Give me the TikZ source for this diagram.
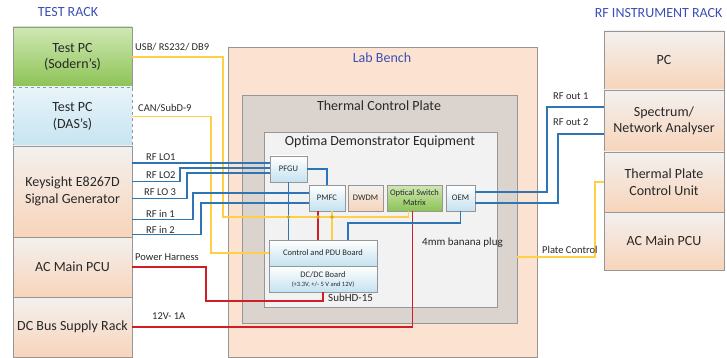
\documentclass[tikz,border=0pt]{standalone}
\usepackage{fontspec}
\setmainfont{Carlito}
\usepackage{tikz}
\usetikzlibrary{positioning}

\definecolor{peach}{RGB}{248,212,186}
\definecolor{paleface}{RGB}{243,241,239}
\definecolor{benchfill}{RGB}{251,226,209}
\definecolor{platefill}{RGB}{219,212,206}
\definecolor{optimafill}{RGB}{242,242,242}
\definecolor{boxblue}{RGB}{196,226,240}
\definecolor{dasblue}{RGB}{198,228,241}
\definecolor{leafgreen}{RGB}{140,195,85}
\definecolor{palegreen}{RGB}{208,232,180}
\definecolor{titleblue}{RGB}{60,80,180}
\definecolor{wireblue}{RGB}{46,117,182}
\definecolor{wireyellow}{RGB}{255,208,70}
\definecolor{wirered}{RGB}{208,30,40}
\definecolor{edgegray}{RGB}{150,150,150}
\definecolor{inkgray}{RGB}{40,40,40}

\begin{document}
\begin{tikzpicture}[x=1pt, y=-1pt,
  rack/.style={rectangle, draw=edgegray, outer sep=0pt, inner sep=2pt, minimum width=119pt, align=center, top color=paleface, bottom color=peach, text=inkgray, font=\fontsize{14}{16.5}\selectfont},
  holder/.style={rectangle, draw=edgegray, outer sep=0pt, anchor=north west},
  unit/.style={rectangle, draw=edgegray, outer sep=0pt, inner sep=1pt, minimum height=26pt, align=center, top color=white, bottom color=boxblue, text=inkgray, font=\fontsize{8.5}{10}\selectfont},
  heading/.style={text=titleblue, font=\fontsize{14}{16}\selectfont},
  caption/.style={text=inkgray, font=\fontsize{14}{16}\selectfont},
  lbl/.style={anchor=west, inner sep=0pt, text=inkgray, font=\fontsize{10.5}{12}\selectfont},
  bwire/.style={wireblue, line width=1.5pt},
  ywire/.style={wireyellow, line width=1.4pt},
  rwire/.style={wirered, line width=1.8pt},
  joint/.style={radius=1.8pt}]
\useasboundingbox (0,0) rectangle (727,358);

\node[heading] (testrack) at (68,12) {TEST RACK};
\node[rack, minimum height=60pt, top color=palegreen, bottom color=leafgreen] (sodern) at (72.5,57) {Test PC\\(Sodern's)};
\node[rack, below=0pt of sodern, minimum height=59pt, dashed, top color=white!60!dasblue, bottom color=dasblue] (das) {Test PC\\(DAS's)};
\node[rack, below=0pt of das, minimum height=91pt] (keysight) {Keysight E8267D\\Signal Generator};
\node[rack, below=0pt of keysight, minimum height=60pt] (acpcu) {AC Main PCU};
\node[rack, below=0pt of acpcu, minimum height=60pt] (dcbus) {DC Bus Supply Rack};

\node[heading, anchor=east] (rfrack) at (726,13) {RF INSTRUMENT RACK};
\node[rack, minimum width=120pt, minimum height=59pt] (pc) at (664,60.5) {PC};
\node[rack, below=0pt of pc, minimum width=120pt, minimum height=62pt] (analyser) {Spectrum/\\Network Analyser};
\node[rack, below=0pt of analyser, minimum width=120pt, minimum height=60pt] (tpcu) {Thermal Plate\\Control Unit};
\node[rack, below=0pt of tpcu, minimum width=120pt, minimum height=58pt] (acmain) {AC Main PCU};

\node[holder, fill=benchfill, minimum width=309pt, minimum height=310pt] (bench) at (228,47) {};
\node[heading] (benchlbl) at (382,58) {Lab Bench};
\node[holder, fill=platefill, minimum width=275pt, minimum height=228pt] (plate) at (242,95) {};
\node[caption] (platelbl) at (379,106) {Thermal Control Plate};
\node[holder, fill=optimafill, minimum width=233pt, minimum height=175pt] (optima) at (264,132) {};
\node[caption] (optimalbl) at (380,142) {Optima Demonstrator Equipment};

\node[unit, anchor=north west, minimum width=37pt] (pfgu) at (270,156) {PFGU};
\node[unit, anchor=north west, minimum width=36pt] (pmfc) at (309,185) {PMFC};
\node[unit, right=3pt of pmfc, minimum width=35pt, top color=paleface, bottom color=peach] (dwdm) {DWDM};
\node[unit, right=4pt of dwdm, minimum width=55pt, top color=palegreen, bottom color=leafgreen] (osm) {Optical Switch\\Matrix};
\node[unit, right=4pt of osm, minimum width=29pt] (oem) {OEM};
\node[unit, anchor=north west, minimum width=108pt] (ctrl) at (269,240) {Control and PDU Board};
\node[unit, below=0pt of ctrl, minimum width=108pt] (dcdc) {DC/DC Board\\[-1pt]{\fontsize{6.5}{8}\selectfont (+3.3V, +/- 5 V and 12V)}};

\draw[ywire] (sodern.east) -| (223,217) -| ([xshift=-6pt]osm.south);
\draw[ywire] (das.east) -| (211,253) -- (ctrl.west);
\draw[ywire] (tpcu.west) -- ++(-9,0) |- ([yshift=-48pt]plate.east);
\draw[ywire] ([xshift=5pt]pmfc.south) -- ([xshift=5pt]pmfc.south |- ctrl.north);

\draw[bwire] ([yshift=6pt]pfgu.west) -- ([yshift=6pt]pfgu.west -| keysight.east);
\draw[bwire] ([yshift=10pt]keysight.east) -- ++(48,0) |- ([yshift=1pt]pfgu.west);
\draw[bwire] ([yshift=-7pt]keysight.east) -- ++(55,0) |- ([yshift=-4pt]pfgu.west);
\draw[bwire] ([yshift=-28pt]keysight.east) -- ++(61,0) |- ([yshift=5pt]pmfc.west);
\draw[bwire] ([yshift=-43pt]keysight.east) -- ++(69,0) |- ([yshift=-5pt]pmfc.west);
\draw[bwire] (pfgu.east) -| (pmfc.north);
\draw[bwire] (pfgu.south) -- (pfgu.south |- ctrl.north);
\draw[bwire] (oem.south) -- ++(0,12) -| ([xshift=25pt]ctrl.north);
\draw[bwire] ([yshift=6pt]oem.east) -- ++(72,0) |- ([yshift=14pt]analyser.west);
\draw[bwire] ([yshift=-5pt]oem.east) -- ++(83,0) |- ([yshift=-13pt]analyser.west);

\draw[rwire] (acpcu.east) -- ++(74,0) |- ([yshift=-9pt]dcdc.south) -- (dcdc.south);
\draw[rwire] (dcbus.east) -| ([xshift=-2pt]osm.south);
\draw[rwire] ([xshift=-9pt]pmfc.south) -- ([xshift=-9pt]pmfc.south |- ctrl.north);

\fill[wireblue] (288.5,193) circle[joint] (288.5,203) circle[joint] (412.5,223) circle[joint];
\fill[wireyellow!80!black] (288.5,217) circle[joint] (318,217) circle[joint] (332,217) circle[joint];

\node[lbl] (usblbl) at (135,47) {USB/ RS232/ DB9};
\node[lbl] (canlbl) at (138,108) {CAN/SubD-9};
\node[lbl] (lo1lbl) at (146,157) {RF LO1};
\node[lbl] (lo2lbl) at (146,175) {RF LO2};
\node[lbl] (lo3lbl) at (144,192) {RF LO 3};
\node[lbl] (in1lbl) at (146,214) {RF in 1};
\node[lbl] (in2lbl) at (146,230) {RF in 2};
\node[lbl] (harnesslbl) at (135,257) {Power Harness};
\node[lbl] (dclbl) at (152,316) {12V- 1A};
\node[lbl, font=\fontsize{11}{13}\selectfont] (subhdlbl) at (328,298) {SubHD-15};
\node[lbl, font=\fontsize{11}{13}\selectfont] (bananalbl) at (422,243) {4mm banana plug};
\node[lbl] (platectl) at (542,250) {Plate Control};
\node[lbl] (out1lbl) at (553,96) {RF out 1};
\node[lbl] (out2lbl) at (553,122) {RF out 2};
\end{tikzpicture}
\end{document}
